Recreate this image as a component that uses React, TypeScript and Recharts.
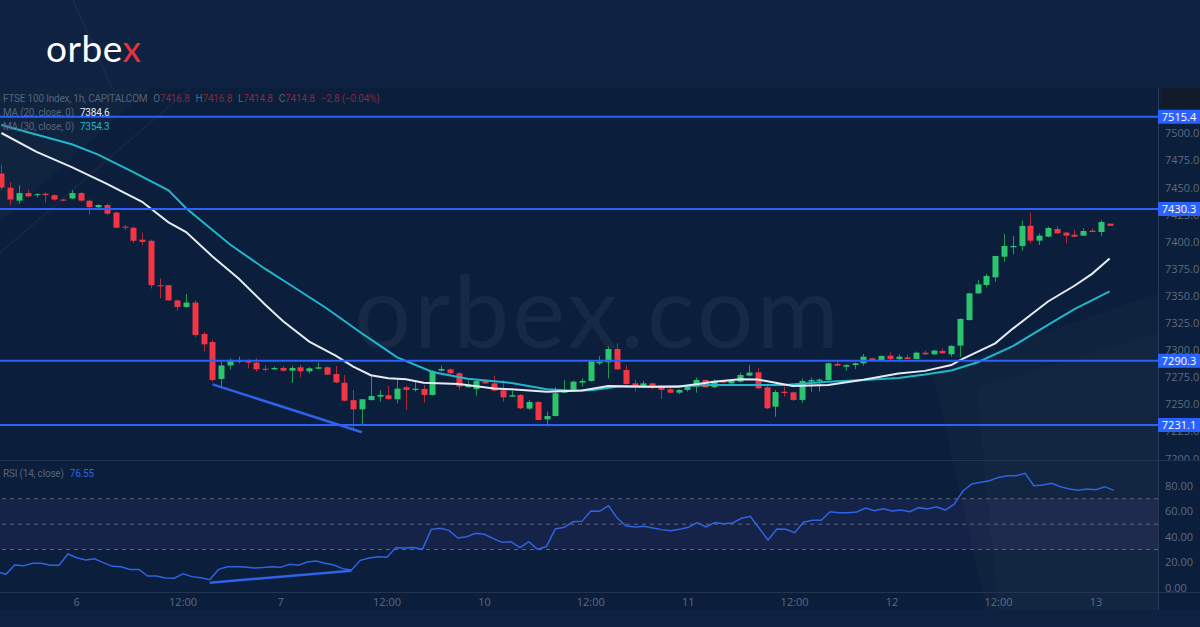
import { ComposedChart, Bar, Line, XAxis, YAxis, ReferenceLine, ReferenceArea } from "recharts";

// hourly FTSE 100 candles, index 0 = first visible bar
const OPEN = [
  7463, 7450, 7438, 7445, 7443, 7444.4, 7443, 7439, 7440, 7445,
  7438, 7432, 7434, 7427, 7414, 7413, 7402, 7401, 7360, 7360,
  7346, 7340, 7344, 7315, 7307.6, 7273.5, 7286, 7289.5, 7290.4, 7288.6,
  7283, 7282.4, 7283.7, 7281.2, 7284.3, 7280.6, 7283, 7284.3, 7278.1, 7270.1,
  7254, 7245.5, 7254.1, 7257.2, 7258.5, 7254.8, 7265.9, 7263.4, 7264.3, 7258.8,
  7281.2, 7282.4, 7278.8, 7265.9, 7264.3, 7271.7, 7269.5, 7263.1, 7257.2, 7258.8,
  7246.2, 7252.3, 7236.3, 7239.4, 7260.9, 7263.4, 7270.2, 7271.7, 7288, 7288.9,
  7301.2, 7281.8, 7269.5, 7267.1, 7269.5, 7267.1, 7264, 7260.9, 7263.4, 7266.5,
  7272.6, 7265.9, 7272, 7269.5, 7271.1, 7276.6, 7279.7, 7265.9, 7248, 7261.8,
  7261.2, 7254.2, 7271.1, 7271.7, 7272.6, 7287.4, 7284.9, 7286.4, 7288, 7292.6,
  7290.1, 7295, 7292, 7293.5, 7292, 7297.8, 7296.3, 7299.4, 7296.3, 7304.3,
  7327.9, 7352.5, 7360.2, 7367.3, 7386.3, 7395, 7396.2, 7414.9, 7401.1, 7404.8,
  7411.9, 7408.5, 7406.6, 7405.7, 7410.3, 7409.1, 7416.8,
];
const HIGH = [
  7471, 7455, 7452, 7448, 7445, 7445.7, 7444, 7439.5, 7447.8, 7446,
  7439, 7434.6, 7435.5, 7427.8, 7415.5, 7414, 7408.5, 7402, 7366, 7360,
  7347, 7352, 7346, 7317, 7310, 7290.4, 7292.6, 7294, 7291.6, 7292.6,
  7286.4, 7284.9, 7285.5, 7285.5, 7286.4, 7284.3, 7288.6, 7284.9, 7285.5, 7277.2,
  7263.4, 7255, 7276.3, 7263.4, 7267.1, 7274, 7267, 7272.6, 7268, 7281.8,
  7285.8, 7283.4, 7280, 7272, 7272.6, 7272.6, 7276.6, 7272.6, 7262.8, 7259.7,
  7254.2, 7253.2, 7243.4, 7265.9, 7272.6, 7272, 7274.2, 7290.4, 7294.7, 7303.4,
  7306.4, 7286.1, 7272.6, 7271.7, 7270.2, 7268, 7266.5, 7264, 7267.7, 7274.8,
  7273.2, 7273.2, 7272.6, 7273.2, 7279.4, 7286.4, 7283.4, 7268, 7263.4, 7266.5,
  7261.8, 7274.1, 7274.8, 7274.1, 7288.6, 7290.1, 7287.1, 7288.9, 7296.6, 7293.2,
  7295.4, 7298.1, 7296.6, 7295.7, 7298.7, 7299.7, 7300.3, 7301.5, 7304.6, 7329.5,
  7353.1, 7364.8, 7370.4, 7387, 7407.3, 7405.4, 7419.5, 7426.9, 7407.9, 7414,
  7414.6, 7408.8, 7410.9, 7412.5, 7412.2, 7420.2, 7416.8,
];
const LOW = [
  7448, 7434, 7435, 7441, 7441, 7436, 7437.7, 7437.5, 7439.5, 7437,
  7425, 7430.3, 7424.8, 7412.5, 7410.9, 7399, 7397, 7357, 7348, 7345.8,
  7336.5, 7339, 7312, 7299, 7271, 7266.4, 7282, 7288, 7283.4, 7280.3,
  7280.3, 7281.8, 7280.3, 7270, 7275, 7278.7, 7282.8, 7277.2, 7269.5, 7252.6,
  7228, 7231, 7253.5, 7252.6, 7254, 7251, 7245, 7261.9, 7251.7, 7258.2,
  7280.3, 7278.1, 7263.4, 7265.5, 7258.2, 7268.9, 7262.2, 7252.6, 7257, 7245.6,
  7245, 7235.1, 7229.6, 7238.8, 7260.3, 7262.8, 7266.5, 7271.1, 7286.4, 7274.1,
  7281.8, 7268.3, 7261.9, 7265.9, 7264, 7255.1, 7260.3, 7259.4, 7261.9, 7260.9,
  7265.3, 7265.3, 7269.5, 7268, 7270.2, 7275.7, 7264, 7245.6, 7238.8, 7257.2,
  7253.2, 7251.7, 7261.8, 7261.8, 7272, 7285.5, 7281.2, 7282.8, 7285.8, 7289.8,
  7289.5, 7291, 7291, 7291.7, 7291.7, 7295.7, 7295.7, 7296.6, 7294.1, 7294.1,
  7327.3, 7351.9, 7358.1, 7363.3, 7381.7, 7388.5, 7391.9, 7398.6, 7397.1, 7404.2,
  7407.2, 7398.6, 7404.2, 7405.4, 7408.8, 7405.7, 7414.8,
];
const CLOSE = [
  7450, 7439, 7445, 7442, 7444, 7443.2, 7439, 7438, 7445, 7438,
  7432, 7434, 7426, 7413, 7413, 7401, 7400, 7360, 7359, 7346,
  7340, 7344, 7314, 7305.5, 7272.6, 7286, 7290.4, 7290.4, 7288.6, 7282.4,
  7282, 7283.7, 7281.2, 7283.7, 7280.6, 7283.4, 7284.3, 7277.5, 7270.4, 7253.5,
  7245.5, 7254.8, 7257.8, 7258.8, 7255.1, 7264.6, 7263.4, 7264.6, 7258.8, 7280.9,
  7282.8, 7278.8, 7266.5, 7268, 7271.7, 7269.5, 7262.8, 7256.6, 7258.5, 7246.5,
  7252.3, 7235.7, 7239.4, 7260.3, 7262.8, 7271.1, 7271.7, 7290.1, 7289.2, 7301.2,
  7282.4, 7268.9, 7267.1, 7269.5, 7265.9, 7263.4, 7260.9, 7263.4, 7266.5, 7272.6,
  7265.9, 7271.7, 7270.2, 7272, 7277.2, 7279.4, 7264.9, 7246.5, 7261.5, 7260.6,
  7254.2, 7271.7, 7272.6, 7272.9, 7288, 7285.8, 7286.4, 7288, 7294.1, 7290.4,
  7294.7, 7292, 7294.1, 7292, 7297.8, 7296.3, 7299.7, 7297.2, 7304, 7328.9,
  7352.5, 7360.8, 7368.5, 7387, 7396.2, 7396.2, 7414.6, 7401.1, 7405.7, 7412.8,
  7407.9, 7405.7, 7404.8, 7410, 7409.1, 7418.3, 7414.8,
];

// moving averages: [bar index, value]
const MA20 = [
  [0, 7500.4], [4, 7483], [8, 7469], [12, 7453.5], [16, 7437], [19, 7418], [21, 7409],
  [24, 7386.5], [27, 7366], [30, 7342], [32, 7327], [35, 7308], [38, 7295], [40, 7285],
  [42, 7277], [44, 7274.2], [46, 7273.3], [48, 7270], [52, 7268.8], [56, 7264.8], [58, 7264],
  [62, 7261.8], [66, 7262.8], [69, 7267.1], [74, 7266.4], [77, 7266.4], [81, 7271], [84, 7273.2],
  [86, 7273], [88, 7270], [90, 7267.1], [94, 7268], [98, 7272.8], [102, 7278.5], [105, 7281],
  [108, 7286.4], [109, 7291], [113, 7306.4], [115, 7320], [119, 7345], [122, 7359.5],
  [124, 7370.5], [126, 7384.6],
];
const MA30 = [
  [0, 7507.7], [8, 7490], [11, 7480.5], [15, 7464.4], [19, 7447.5], [21, 7431], [26, 7397.5],
  [30, 7375], [33, 7359.5], [37, 7338.5], [41, 7315.5], [43, 7304.5], [45, 7293.5], [49, 7280],
  [53, 7273.8], [58, 7269.8], [62, 7264], [65, 7262.7], [67, 7263.2], [70, 7266.4], [74, 7266.4],
  [81, 7268], [89, 7268], [94, 7271], [98, 7272.6], [102, 7274.5], [105, 7277.6], [108, 7281.4],
  [111, 7289], [115, 7303.8], [119, 7323.5], [122, 7338], [126, 7354.3],
];

const RSI = [
  12.6, 10.5, 17.8, 17.3, 19.2, 19.2, 17.6, 17.6, 26.5, 23.6,
  21.8, 22.8, 19.7, 16.8, 16.5, 14.4, 14.4, 9.2, 9.2, 7.6,
  7.4, 11.0, 8.7, 7.9, 6.3, 14.4, 16.5, 16.5, 16.3, 15.5,
  15.8, 16.5, 16.0, 18.4, 17.6, 20.2, 21.0, 19.2, 17.8, 15.0,
  13.9, 21.5, 23.4, 24.4, 23.9, 31.5, 31.2, 31.7, 30.2, 45.9,
  46.7, 45.1, 39.1, 40.1, 42.8, 42.0, 38.6, 35.7, 36.2, 31.5,
  36.2, 30.2, 32.5, 46.2, 47.5, 51.9, 52.2, 60.4, 60.1, 64.5,
  54.6, 48.5, 47.8, 48.3, 47.0, 45.7, 44.9, 45.9, 47.5, 51.2,
  47.8, 51.2, 50.4, 50.9, 54.6, 56.2, 46.8, 37.5, 46.2, 45.9,
  43.3, 51.5, 53.0, 53.0, 59.8, 59.0, 59.0, 59.6, 62.7, 60.6,
  62.2, 60.3, 61.1, 59.8, 63.0, 61.9, 63.7, 61.1, 65.8, 76.1,
  81.6, 82.9, 84.2, 86.8, 88.1, 88.1, 90.0, 80.3, 80.8, 82.1,
  79.5, 77.7, 76.6, 77.7, 77.1, 79.5, 76.55,
];

const LEVELS = [7515.4, 7430.3, 7290.3, 7231.1];
const PRICE_TICKS = [7200, 7225, 7250, 7275, 7300, 7325, 7350, 7375, 7400, 7425, 7450, 7475, 7500];
const RSI_TICKS = [0, 20, 40, 60, 80];
const X_TICKS = [9, 21, 32, 44, 55, 67, 78, 90, 101, 113, 124];
const X_LABELS = ["6", "12:00", "7", "12:00", "10", "12:00", "11", "12:00", "12", "12:00", "13"];
const PRICE_LINE = [{ x: 24, y: 7268.6 }, { x: 41, y: 7224.4 }];
const RSI_LINE = [{ x: 24, y: 3.9 }, { x: 40, y: 13.4 }];

const SLOTS = 132; // 127 bars + empty space before the price scale
const PRICE_DOMAIN = [7198.8, 7541.9];

const ma20At = new Map(MA20.map(([i, v]) => [i, v]));
const ma30At = new Map(MA30.map(([i, v]) => [i, v]));

const rows = Array.from({ length: SLOTS }, (_, i) => {
  const has = i < CLOSE.length;
  return {
    i,
    range: has ? [LOW[i], HIGH[i]] : null,
    o: has ? OPEN[i] : null,
    h: has ? HIGH[i] : null,
    l: has ? LOW[i] : null,
    c: has ? CLOSE[i] : null,
    ma20: ma20At.has(i) ? ma20At.get(i) : null,
    ma30: ma30At.has(i) ? ma30At.get(i) : null,
    rsi: has ? RSI[i] : null,
  };
});

const BG = "#0b1e3b";
const GRAY = "#56647b";
const RED_DIM = "#7f2d3b";
const AXIS_TEXT = "#5d6a80";
const LEVEL_BLUE = "#2962ff";
const FONT = "'Open Sans', Roboto, sans-serif";
const LEGEND_FONT = "Roboto, 'Open Sans', sans-serif";

function Candle(props: any) {
  const { x, y, width, height, payload } = props;
  if (payload == null || payload.o == null) return null;
  const { o, h, l, c } = payload;
  const up = c >= o;
  const cx = Math.round(x + width / 2);
  const span = h - l;
  const py = (v: number) => (span === 0 ? y : y + ((h - v) / span) * height);
  const top = py(Math.max(o, c));
  const bot = py(Math.min(o, c));
  return (
    <g>
      <line x1={cx + 0.5} x2={cx + 0.5} y1={y} y2={y + height} stroke={up ? "#1f9a55" : "#b02a3b"} strokeWidth={1} />
      <rect x={cx - 2.5} y={top} width={6} height={Math.max(bot - top, 1)} fill={up ? "#2cc46c" : "#f23645"} />
    </g>
  );
}

function LevelTag(props: any) {
  const { viewBox, text } = props;
  if (!viewBox) return null;
  const x = viewBox.x + viewBox.width;
  const y = viewBox.y;
  return (
    <g>
      <rect x={x} y={y - 7} width={44} height={14} fill={LEVEL_BLUE} />
      <text x={x + 21} y={y + 4} textAnchor="middle" fill="#ffffff" fontSize={11} fontFamily={FONT}>{text}</text>
    </g>
  );
}

const legendStyle = {
  position: "absolute" as const,
  left: 3,
  fontFamily: LEGEND_FONT,
  fontSize: 10,
  letterSpacing: -0.2,
  lineHeight: "14px",
  whiteSpace: "nowrap" as const,
  color: GRAY,
};

export default function App() {
  return (
    <div style={{ position: "absolute", left: 0, top: 0, width: 1200, height: 627, overflow: "hidden", background: BG, fontFamily: FONT }}>
      {/* backdrop: header band, faint shapes, watermark, logo */}
      <svg width={1200} height={627} style={{ position: "absolute", left: 0, top: 0 }}>
        <rect x={0} y={0} width={1200} height={88} fill="#0f2242" />
        <polygon points="0,88 150,88 0,222" fill="#ffffff" fillOpacity={0.025} />
        <line x1={0} y1={253} x2={190} y2={88} stroke="#ffffff" strokeOpacity={0.04} strokeWidth={2} />
        <line x1={73} y1={0} x2={112} y2={88} stroke="#ffffff" strokeOpacity={0.04} strokeWidth={2} />
        <polygon points="933,373 1158,293 1158,627 990,627" fill="#ffffff" fillOpacity={0.02} />
        <polygon points="977,388 1158,333 1158,627 1000,627" fill="#ffffff" fillOpacity={0.02} />
        <rect x={0} y={610} width={1200} height={17} fill="#0e2140" />
        <text x={598} y={348} textAnchor="middle" fontSize={100} fontFamily="Lato, sans-serif" letterSpacing={3} fill="#ffffff" fillOpacity={0.05}>orbex.com</text>
        <text x={46} y={62} fontSize={37} fontFamily="Lato, sans-serif" letterSpacing={0.5} fill="#ffffff">
          orbe<tspan fill="#e8323c">x</tspan>
        </text>
        <line x1={0} y1={460.5} x2={1200} y2={460.5} stroke="#243450" strokeWidth={1} />
        <line x1={0} y1={592.5} x2={1200} y2={592.5} stroke="#243450" strokeWidth={1} />
        <line x1={1158.5} y1={88} x2={1158.5} y2={610} stroke="#2a3a55" strokeWidth={1} />
        <rect x={1162} y={88} width={38} height={20} rx={3} fill="#131b29" />
      </svg>

      {/* price pane */}
      <div style={{ position: "absolute", left: -3, top: 88 }}>
        <ComposedChart width={1203} height={372} data={rows} margin={{ top: 0, right: 0, bottom: 0, left: 0 }} barCategoryGap="10%">
          <XAxis dataKey="i" type="category" hide />
          <YAxis
            orientation="right"
            width={42}
            domain={PRICE_DOMAIN}
            allowDataOverflow
            ticks={PRICE_TICKS}
            interval={0}
            tickFormatter={(v: number) => v.toFixed(1)}
            tick={{ fill: AXIS_TEXT, fontSize: 11, fontFamily: FONT }}
            tickSize={0}
            tickMargin={7}
            axisLine={false}
            tickLine={false}
          />
          <Bar dataKey="range" shape={(p: any) => <Candle {...p} />} isAnimationActive={false} />
          <Line dataKey="ma30" stroke="#21b6cc" strokeWidth={2} dot={false} connectNulls isAnimationActive={false} />
          <Line dataKey="ma20" stroke="#e6ebf2" strokeWidth={2} dot={false} connectNulls isAnimationActive={false} />
          <ReferenceLine segment={PRICE_LINE} stroke="#2f62e8" strokeWidth={2.5} />
        </ComposedChart>
      </div>

      {/* horizontal levels with their price tags, above the price scale */}
      <div style={{ position: "absolute", left: -3, top: 88 }}>
        <ComposedChart width={1203} height={372} data={rows} margin={{ top: 0, right: 42, bottom: 0, left: 0 }}>
          <XAxis dataKey="i" type="category" hide />
          <YAxis hide domain={PRICE_DOMAIN} allowDataOverflow />
          {LEVELS.map((v) => (
            <ReferenceLine key={v} y={v} stroke={LEVEL_BLUE} strokeWidth={2} label={<LevelTag text={v.toFixed(1)} />} />
          ))}
        </ComposedChart>
      </div>

      {/* RSI pane */}
      <div style={{ position: "absolute", left: -3, top: 460 }}>
        <ComposedChart width={1203} height={167} data={rows} margin={{ top: 0, right: 0, bottom: 0, left: 0 }}>
          <ReferenceArea y1={30} y2={70} fill="#7e57c2" fillOpacity={0.1} stroke="none" />
          {[70, 50, 30].map((v) => (
            <ReferenceLine key={v} y={v} stroke="#5f6779" strokeDasharray="4 4" />
          ))}
          <XAxis
            dataKey="i"
            type="category"
            ticks={X_TICKS}
            interval={0}
            tickFormatter={(v: number) => X_LABELS[X_TICKS.indexOf(v)] ?? ""}
            height={35}
            tickSize={0}
            tickMargin={6}
            axisLine={false}
            tickLine={false}
            tick={{ fill: AXIS_TEXT, fontSize: 11, fontFamily: FONT }}
          />
          <YAxis
            orientation="right"
            width={42}
            domain={[-3.4, 100.5]}
            allowDataOverflow
            ticks={RSI_TICKS}
            interval={0}
            tickFormatter={(v: number) => v.toFixed(2)}
            tick={{ fill: AXIS_TEXT, fontSize: 11, fontFamily: FONT }}
            tickSize={0}
            tickMargin={7}
            axisLine={false}
            tickLine={false}
          />
          <Line dataKey="rsi" stroke="#2f63e0" strokeWidth={1.5} dot={false} isAnimationActive={false} />
          <ReferenceLine segment={RSI_LINE} stroke="#2f62e8" strokeWidth={2.5} />
        </ComposedChart>
      </div>

      {/* legends */}
      <div style={{ ...legendStyle, top: 92 }}>
        <div>
          <span>FTSE 100 Index, 1h, CAPITALCOM</span>
          <span style={{ marginLeft: 6 }}>O<span style={{ color: RED_DIM }}>7416.8</span></span>
          <span style={{ marginLeft: 6 }}>H<span style={{ color: RED_DIM }}>7416.8</span></span>
          <span style={{ marginLeft: 6 }}>L<span style={{ color: RED_DIM }}>7414.8</span></span>
          <span style={{ marginLeft: 6 }}>C<span style={{ color: RED_DIM }}>7414.8</span></span>
          <span style={{ marginLeft: 6, color: RED_DIM }}>−2.8 (−0.04%)</span>
        </div>
        <div>
          <span>MA (20, close, 0)</span>
          <span style={{ marginLeft: 6, color: "#e6ebf2" }}>7384.6</span>
        </div>
        <div>
          <span>MA (30, close, 0)</span>
          <span style={{ marginLeft: 6, color: "#21b6cc" }}>7354.3</span>
        </div>
      </div>
      <div style={{ ...legendStyle, top: 467 }}>
        <span>RSI (14, close)</span>
        <span style={{ marginLeft: 6, color: "#2f63e0" }}>76.55</span>
      </div>
    </div>
  );
}
